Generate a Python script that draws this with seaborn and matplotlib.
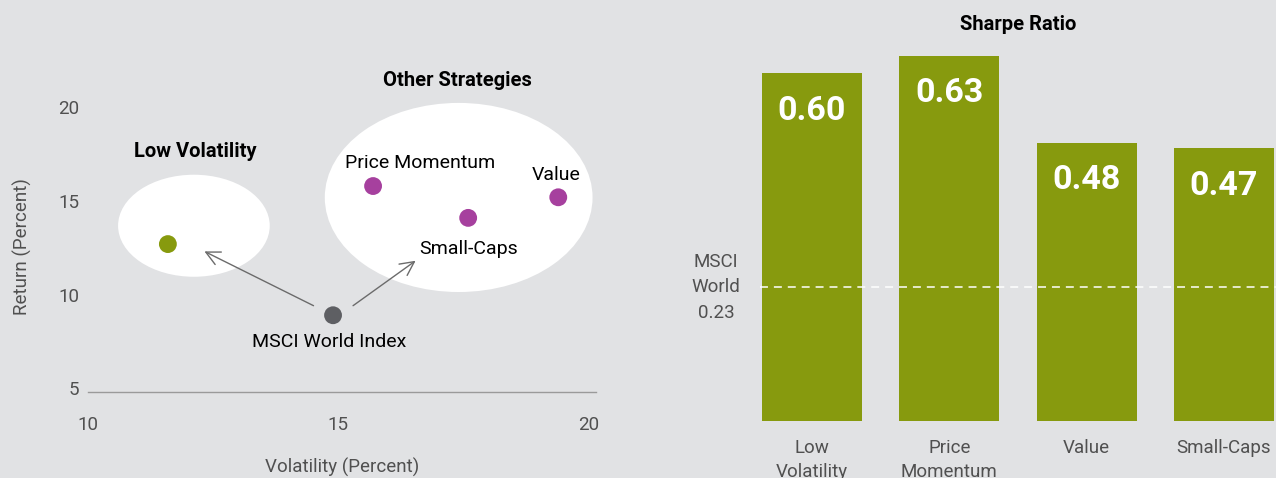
import matplotlib
matplotlib.use("Agg")
import matplotlib.pyplot as plt
from matplotlib.patches import Ellipse
import seaborn as sns
import pandas as pd

# scatter data: volatility vs return
strategies = ["Low Volatility", "MSCI World Index", "Price Momentum", "Small-Caps", "Value"]
volatility = [11.6, 14.9, 15.7, 17.6, 19.4]
returns = [12.7, 8.9, 15.8, 14.1, 15.2]
groups = ["low", "index", "other", "other", "other"]

# bar data: sharpe ratio
bar_labels = ["Low\nVolatility", "Price\nMomentum", "Value", "Small-Caps"]
sharpe = [0.60, 0.63, 0.48, 0.47]
msci_sharpe = 0.23

x_ticks = [10, 15, 20]
y_ticks = [5, 10, 15, 20]

BG = "#e1e2e4"
GREEN = "#879a0e"
MAGENTA = "#a6409e"
GREY_DOT = "#5e5f63"
TXT = "#505050"

sns.set_theme(style="white")
plt.rcParams["font.family"] = ["Roboto", "DejaVu Sans"]

fig = plt.figure(figsize=(12.76, 4.78), dpi=100, facecolor=BG)

# ---------- left: risk / return scatter ----------
ax1 = fig.add_axes([87.8 / 1276, 86 / 478, 508 / 1276, 331.4 / 478])
ax1.set_facecolor(BG)

ax1.add_patch(Ellipse((12.12, 13.68), 3.03, 5.45, facecolor="white", edgecolor="none", zorder=1))
ax1.add_patch(Ellipse((17.41, 15.19), 5.35, 10.1, facecolor="white", edgecolor="none", zorder=1))

df = pd.DataFrame({"vol": volatility, "ret": returns, "grp": groups, "name": strategies})
sns.scatterplot(data=df, x="vol", y="ret", hue="grp",
                palette={"low": GREEN, "index": GREY_DOT, "other": MAGENTA},
                s=165, edgecolor="none", legend=False, ax=ax1, zorder=3)

ax1.set_xlim(10, 20.15)
ax1.set_ylim(4.8, 22.5)
ax1.set_xticks(x_ticks)
ax1.set_yticks(y_ticks)
ax1.tick_params(axis="x", length=0, pad=17, labelsize=13.5, labelcolor=TXT)
ax1.tick_params(axis="y", length=0, pad=6, labelsize=13.5, labelcolor=TXT)
for s in ["top", "right", "left"]:
    ax1.spines[s].set_visible(False)
ax1.spines["bottom"].set_color("#9a9a9a")
ax1.spines["bottom"].set_linewidth(1)
ax1.set_xlabel("Volatility (Percent)", fontsize=13.5, color=TXT)
ax1.set_ylabel("Return (Percent)", fontsize=13.5, color=TXT)
ax1.xaxis.set_label_coords(0.5, -0.2)
ax1.yaxis.set_label_coords(-0.11, 0.44)

ax1.text(17.39, 21.44, "Other Strategies", ha="center", va="center", fontsize=14.5, fontweight="bold", color="black")
ax1.text(12.15, 17.65, "Low Volatility", ha="center", va="center", fontsize=14.5, fontweight="bold", color="black")
ax1.text(16.64, 17.03, "Price Momentum", ha="center", va="center", fontsize=14, color="black")
ax1.text(19.35, 16.4, "Value", ha="center", va="center", fontsize=14, color="black")
ax1.text(17.61, 12.45, "Small-Caps", ha="center", va="center", fontsize=14, color="black")
ax1.text(14.83, 7.45, "MSCI World Index", ha="center", va="center", fontsize=14, color="black")

arrow = dict(arrowstyle="->,head_length=0.5,head_width=0.25", color="#6b6b6b", lw=1,
             shrinkA=0, shrinkB=0, mutation_scale=20)
ax1.annotate("", xy=(12.33, 12.31), xytext=(14.51, 9.41), arrowprops=arrow, zorder=2)
ax1.annotate("", xy=(16.55, 11.81), xytext=(15.3, 9.41), arrowprops=arrow, zorder=2)

# ---------- right: sharpe ratio bars ----------
ax2 = fig.add_axes([760 / 1276, 57.3 / 478, 516 / 1276, 417.2 / 478])
ax2.set_facecolor(BG)

bdf = pd.DataFrame({"label": bar_labels, "sharpe": sharpe})
sns.barplot(data=bdf, x="label", y="sharpe", color=GREEN, saturation=1,
            width=0.728, ax=ax2, zorder=2)
for p in ax2.patches:
    p.set_edgecolor("none")

ax2.set_xlim(-0.379, 3.379)
ax2.set_ylim(0, 0.72)
ax2.set_yticks([])
ax2.set_xlabel("")
ax2.set_ylabel("")
ax2.tick_params(axis="x", length=0, pad=13, labelsize=13.5, labelcolor=TXT)
for lbl in ax2.get_xticklabels():
    lbl.set_linespacing(1.45)
for s in ax2.spines.values():
    s.set_visible(False)

for i, v in enumerate(sharpe):
    ax2.annotate(f"{v:.2f}", xy=(i, v), xytext=(0, -33.6), textcoords="offset points",
                 ha="center", va="baseline", fontsize=24.5, fontweight="bold", color="white", zorder=4)

ax2.axhline(msci_sharpe, color="white", lw=1.1, linestyle=(0, (5.2, 3.9)), zorder=3)
ax2.text(-0.7, msci_sharpe, f"MSCI\nWorld\n{msci_sharpe:.2f}", ha="center", va="center",
         fontsize=13.5, color=TXT, linespacing=1.55)
ax2.text(1.5, 0.683, "Sharpe Ratio", ha="center", va="center", fontsize=14.5,
         fontweight="bold", color="black")

fig.savefig("out.png", dpi=100, facecolor=BG)
